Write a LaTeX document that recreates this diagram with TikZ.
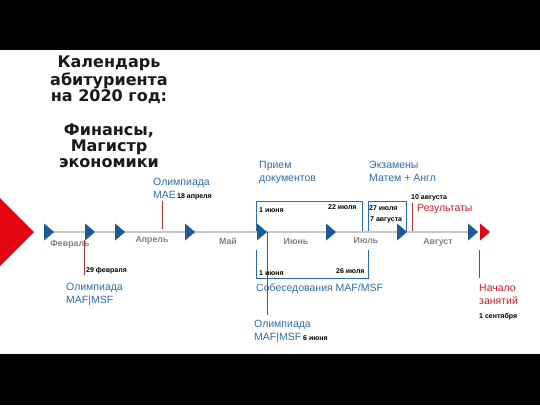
\documentclass[tikz,border=0pt]{standalone}
\usepackage{fontspec}
\setmainfont{Liberation Sans}
\newfontfamily\titlefont{DejaVu Sans}
\usetikzlibrary{shapes.geometric}
\definecolor{myblue1}{HTML}{1B5A96}
\definecolor{myblue2}{HTML}{2F6CA6}
\definecolor{myred1}{HTML}{E30613}
\definecolor{myred2}{HTML}{C8202C}
\definecolor{myred3}{HTML}{A8323A}
\colorlet{mygray1}{black!22}
\colorlet{mygray2}{black!50}

\begin{document}
\begin{tikzpicture}[
        x=1pt,
        y=-1pt,
        arrowmark/.style={
            isosceles triangle,
            isosceles triangle stretches,
            shape border rotate=0,
            minimum width=17pt,
            minimum height=10pt,
            inner sep=0pt,
            fill=myblue1,
        },
        endmark/.style={
            arrowmark,
            fill=myred1,
        },
        month/.style={
            font=\bfseries\fontsize{8.8}{10}\selectfont,
            text=mygray2,
            inner sep=0pt,
        },
        event/.style={
            font=\fontsize{10.5}{12.5}\selectfont,
            text=myblue2,
            align=left,
            anchor=base west,
            inner sep=0pt,
        },
        redevent/.style={
            event,
            text=myred2,
        },
        date/.style={
            font=\bfseries\fontsize{7}{8}\selectfont,
            anchor=base west,
            inner sep=0pt,
        },
        tick/.style={
            draw=myred3,
            line width=0.8pt,
        },
        bracket/.style={
            draw=myblue2,
            line width=0.8pt,
        },
    ]

    \useasboundingbox (0, 0) rectangle (540, 405);
    \fill[black] (0, 0) rectangle (540, 50);
    \fill[black] (0, 354) rectangle (540, 405);

    % title (base is the last line)
    \node[font=\titlefont\bfseries\fontsize{16}{16}\selectfont, align=center,
        text=black!90, inner sep=0pt, anchor=base] (title) at (109, 167)
        {Календарь\\абитуриента\\на 2020 год:\\[18pt]Финансы,\\Магистр\\экономики};

    % timeline
    \fill[myred1] (0, 198) -- (34, 232) -- (0, 266) -- cycle;
    \draw[mygray1, line width=2.7pt] (48, 232) -- (472, 232);

    \node[arrowmark] (m0) at (48, 232) {};
    \node[arrowmark] (m1) at (89, 232) {};
    \node[arrowmark] (m2) at (119, 232) {};
    \node[arrowmark] (m3) at (189, 232) {};
    \node[arrowmark] (m4) at (261, 232) {};
    \node[arrowmark] (m5) at (330, 232) {};
    \node[arrowmark] (m6) at (401, 232) {};
    \node[arrowmark] (m7) at (472, 232) {};
    \node[endmark] (m8) at (484, 232) {};

    \node[month] (feb) at (70, 244) {Февраль};
    \node[month] (apr) at (152, 240) {Апрель};
    \node[month] (may) at (228, 241) {Май};
    \node[month] (jun) at (296, 242) {Июнь};
    \node[month] (jul) at (366, 241) {Июль};
    \node[month] (aug) at (438, 242) {Август};

    % brackets
    \draw[bracket] (256, 231) |- (362, 201) -- (362, 231);
    \draw[bracket] (368, 231) |- (406, 201) -- (406, 231);
    \draw[bracket] (256, 250) |- (368, 278) -- (368, 250);

    % ticks
    \coordinate (t1a) at (84, 240);
    \coordinate (t1b) at (84, 275);
    \coordinate (t2a) at (162, 201);
    \coordinate (t2b) at (162, 229);
    \coordinate (t3a) at (267, 232);
    \coordinate (t3b) at (267, 315);
    \coordinate (t4a) at (412, 203);
    \coordinate (t4b) at (412, 231);
    \coordinate (t5a) at (479, 250);
    \coordinate (t5b) at (479, 278);
    \draw[tick] (t1a) -- (t1b);
    \draw[tick] (t2a) -- (t2b);
    \draw[tick] (t3a) -- (t3b);
    \draw[tick] (t4a) -- (t4b);
    \draw[tick] (t5a) -- (t5b);

    % labels (two-line ones sit on their last line)
    \node[event] (olymp1) at (66, 303) {Олимпиада\\MAF|MSF};
    \node[date] (d1) at (86, 272) {29 февраля};
    \node[event] (olymp2) at (153, 198) {Олимпиада\\MAE};
    \node[date] (d2) at (177, 198) {18 апреля};
    \node[event] (docs) at (259, 181) {Прием\\документов};
    \node[date] (d3) at (259, 212) {1 июня};
    \node[date] (d4) at (328, 209) {22 июля};
    \node[event] (exams) at (369, 181) {Экзамены\\Матем + Англ};
    \node[date] (d5) at (369, 210) {27 июля};
    \node[date] (d6) at (370, 221) {7 августа};
    \node[date] (d7) at (411, 199) {10 августа};
    \node[redevent] (res) at (417, 211) {Результаты};
    \node[date] (d8) at (259, 275) {1 июня};
    \node[date] (d9) at (336, 273) {26 июля};
    \node[event] (talks) at (256, 291) {Собеседования MAF/MSF};
    \node[event] (olymp3) at (254, 340) {Олимпиада\\MAF|MSF};
    \node[date] (d10) at (303, 340) {6 июня};
    \node[redevent] (start) at (479, 304) {Начало\\занятий};
    \node[date] (d11) at (479, 318) {1 сентября};
\end{tikzpicture}
\end{document}
